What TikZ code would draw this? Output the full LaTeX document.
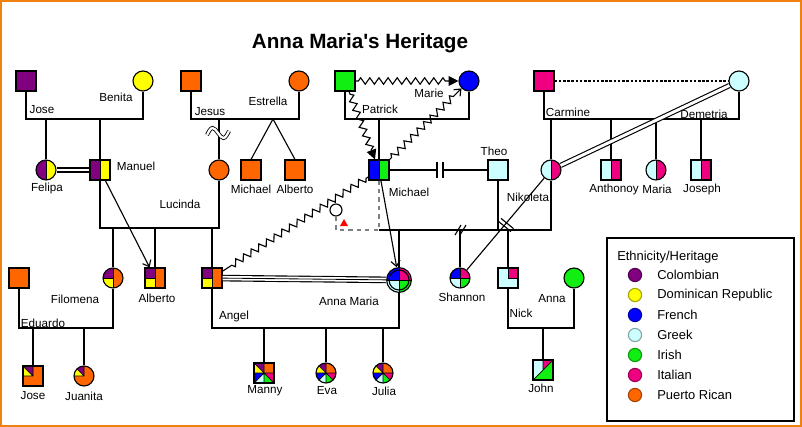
\documentclass[tikz,border=0pt]{standalone}
\usepackage{fontspec}
\setmainfont{Liberation Sans}
\usetikzlibrary{arrows.meta,decorations.pathmorphing}

\definecolor{colombian}{HTML}{800080}
\definecolor{dominican}{HTML}{FFFF00}
\definecolor{french}{HTML}{0000FF}
\definecolor{greek}{HTML}{CCFFFF}
\definecolor{irish}{HTML}{11EE11}
\definecolor{italian}{HTML}{EE0080}
\definecolor{puertorican}{HTML}{FF6600}
\definecolor{frameorange}{HTML}{F08010}

\newcommand\pp{path picture bounding box}

\begin{document}
\begin{tikzpicture}[x=0.025cm,y=-0.025cm,line width=0.8pt,font=\fontsize{8.3}{10}\selectfont,
    male/.style={draw,rectangle,minimum size=0.5cm,inner sep=0pt,fill=#1},
    male/.default=white,
    female/.style={draw,circle,minimum size=0.5cm,inner sep=0pt,fill=#1},
    female/.default=white,
    half/.style 2 args={path picture={
      \fill[#1] (\pp.south west) rectangle (\pp.north);
      \fill[#2] (\pp.south) rectangle (\pp.north east);
      \draw[line width=0.5pt] (\pp.north) -- (\pp.south);}},
    quad/.style n args={4}{path picture={
      \fill[#1] (\pp.west) rectangle (\pp.north);
      \fill[#2] (\pp.center) rectangle (\pp.north east);
      \fill[#3] (\pp.south west) rectangle (\pp.center);
      \fill[#4] (\pp.south) rectangle (\pp.east);
      \draw[line width=0.5pt] (\pp.north) -- (\pp.south) (\pp.west) -- (\pp.east);}},
    threeway/.style={path picture={
      \fill[puertorican] (\pp.south) rectangle (\pp.north east);
      \fill[colombian] (\pp.west) rectangle (\pp.north);
      \fill[dominican] (\pp.south west) rectangle (\pp.center);
      \draw[line width=0.5pt] (\pp.north) -- (\pp.south) (\pp.west) -- (\pp.center);}},
    cornerpair/.style={fill=puertorican,path picture={
      \fill[colombian] (\pp.north west) -- (\pp.north) -- (\pp.center) -- cycle;
      \fill[dominican] (\pp.north west) -- (\pp.west) -- (\pp.center) -- cycle;
      \draw[line width=0.5pt] (\pp.north) -- (\pp.center) -- (\pp.west) (\pp.north west) -- (\pp.center);}},
    eightfold/.style={fill=puertorican,path picture={
      \fill[colombian] (\pp.north west) -- (\pp.north) -- (\pp.center) -- cycle;
      \fill[dominican] (\pp.north west) -- (\pp.west) -- (\pp.center) -- cycle;
      \fill[french] (\pp.west) -- (\pp.south west) -- (\pp.center) -- cycle;
      \fill[greek] (\pp.south west) -- (\pp.south) -- (\pp.center) -- cycle;
      \fill[irish] (\pp.south) -- (\pp.south east) -- (\pp.center) -- cycle;
      \fill[italian] (\pp.south east) -- (\pp.east) -- (\pp.center) -- cycle;
      \draw[line width=0.5pt] (\pp.north) -- (\pp.south) (\pp.west) -- (\pp.east)
        (\pp.north west) -- (\pp.center) (\pp.south west) -- (\pp.center) -- (\pp.south east);}},
    nickfill/.style={fill=greek,path picture={
      \fill[italian] (\pp.center) rectangle (\pp.north east);
      \draw[line width=0.5pt] (\pp.north) -- (\pp.center) -- (\pp.east);}},
    johnfill/.style={fill=greek,path picture={
      \fill[italian] (\pp.north) -- (\pp.north east) -- (\pp.center) -- cycle;
      \fill[irish] (\pp.south west) -- (\pp.north east) -- (\pp.south east) -- cycle;
      \draw[line width=0.5pt] (\pp.south west) -- (\pp.north east) (\pp.north) -- (\pp.center);}},
    lbl/.style={inner sep=1pt},
    close/.style={double,double distance=2.1pt},
    abuse/.style={decorate,decoration={zigzag,segment length=6.5pt,amplitude=2.3pt,pre length=2pt,post length=7pt}},
    hit/.style={-{Triangle[length=7pt,width=7pt]}},
    barb/.style={-{Straight Barb[length=4pt,width=6.5pt]}}]
  \useasboundingbox (0,0) rectangle (802,427);
  \draw[frameorange,line width=1.5pt] (1,1) rectangle (801,426);
  \node[font=\fontsize{14.7}{17}\selectfont\bfseries] (title) at (360,43) {Anna Maria\textquotesingle s Heritage};

  % grandparents
  \node[male=colombian] (jose1) at (26,81) {};
  \node[female=dominican] (benita) at (143,81) {};
  \node[male=puertorican] (jesus) at (191,81) {};
  \node[female=puertorican] (estrella) at (299,81) {};
  \node[male=irish] (patrick) at (345,81) {};
  \node[female=french] (marie) at (469,81) {};
  \node[male=italian] (carmine) at (544,81) {};
  \node[female=greek] (demetria) at (739,81) {};

  % second row
  \node[female,half={colombian}{dominican}] (felipa) at (46,170) {};
  \node[male,half={colombian}{dominican}] (manuel) at (100,170) {};
  \node[female=puertorican] (lucinda) at (219,170) {};
  \node[male=puertorican] (michaeltw) at (251,170) {};
  \node[male=puertorican] (albertotw) at (295,170) {};
  \node[male,half={french}{irish}] (michael) at (379,170) {};
  \node[male=greek] (theo) at (498,170) {};
  \node[female,half={greek}{italian}] (nikoleta) at (551,170) {};
  \node[male,half={greek}{italian}] (anthonoy) at (611,170) {};
  \node[female,half={greek}{italian}] (maria) at (656,170) {};
  \node[male,half={greek}{italian}] (joseph) at (701,170) {};
  \node[female,minimum size=0.3cm] (loss) at (336,210) {};
  \fill[red] (340,226) -- (348,226) -- (344,219) -- cycle;

  % third row
  \node[male=puertorican] (eduardo) at (19,278) {};
  \node[female,threeway] (filomena) at (113,278) {};
  \node[male,threeway] (alberto) at (155,278) {};
  \node[male,threeway] (angel) at (212,278) {};
  \node[female,minimum size=0.62cm,quad={french}{italian}{greek}{irish}] (annamaria) at (399,280) {};
  \draw (annamaria) circle (0.25cm);
  \node[female,quad={french}{italian}{greek}{irish}] (shannon) at (460,278) {};
  \node[male,nickfill] (nick) at (508,278) {};
  \node[female=irish] (anna) at (574,278) {};

  % fourth row
  \node[male,cornerpair] (jose2) at (33,376) {};
  \node[female,cornerpair] (juanita) at (84,376) {};
  \node[male,eightfold] (manny) at (264,373) {};
  \node[female,eightfold] (eva) at (326,373) {};
  \node[female,eightfold] (julia) at (383,373) {};
  \node[male,johnfill] (john) at (543,370) {};

  % names
  \node[lbl] (l-jose1) at (42,110) {Jose};
  \node[lbl] (l-benita) at (116,97) {Benita};
  \node[lbl] (l-jesus) at (210,112) {Jesus};
  \node[lbl] (l-estrella) at (268,101) {Estrella};
  \node[lbl] (l-patrick) at (380,109) {Patrick};
  \node[lbl] (l-marie) at (429,93) {Marie};
  \node[lbl] (l-carmine) at (568,112) {Carmine};
  \node[lbl] (l-demetria) at (704,114) {Demetria};
  \node[lbl] (l-felipa) at (47,188) {Felipa};
  \node[lbl] (l-manuel) at (136,166) {Manuel};
  \node[lbl] (l-lucinda) at (180,204) {Lucinda};
  \node[lbl] (l-michaeltw) at (251,189) {Michael};
  \node[lbl] (l-albertotw) at (295,189) {Alberto};
  \node[lbl] (l-michael) at (409,192) {Michael};
  \node[lbl] (l-theo) at (494,151) {Theo};
  \node[lbl] (l-nikoleta) at (528,197) {Nikoleta};
  \node[lbl] (l-anthonoy) at (614,189) {Anthonoy};
  \node[lbl] (l-maria) at (657,189) {Maria};
  \node[lbl] (l-joseph) at (702,189) {Joseph};
  \node[lbl] (l-filomena) at (75,299) {Filomena};
  \node[lbl] (l-alberto) at (157,298) {Alberto};
  \node[lbl] (l-angel) at (234,316) {Angel};
  \node[lbl] (l-eduardo) at (43,323) {Eduardo};
  \node[lbl] (l-annamaria) at (349,301) {Anna Maria};
  \node[lbl] (l-shannon) at (462,297) {Shannon};
  \node[lbl] (l-nick) at (521,313) {Nick};
  \node[lbl] (l-anna) at (552,299) {Anna};
  \node[lbl] (l-jose2) at (33,396) {Jose};
  \node[lbl] (l-juanita) at (84,396) {Juanita};
  \node[lbl] (l-manny) at (265,391) {Manny};
  \node[lbl] (l-eva) at (327,391) {Eva};
  \node[lbl] (l-julia) at (384,391) {Julia};
  \node[lbl] (l-john) at (541,388) {John};

  % couple lines
  \coordinate (jb) at (84,119);
  \coordinate (je) at (245,119);
  \coordinate (twins) at (273,119);
  \coordinate (pm) at (407,119);
  \coordinate (cd) at (641,119);
  \coordinate (ml) at (160,228);
  \coordinate (mn) at (379,230);
  \coordinate (ef) at (66,328);
  \coordinate (aa) at (305,328);
  \coordinate (na) at (541,328);
  \draw (jose1) -- (jose1 |- jb) -| (benita);
  \draw (jesus) -- (jesus |- je) -| (estrella);
  \draw (patrick) -- (patrick |- pm) -| (marie);
  \draw (carmine) -- (carmine |- cd) -| (demetria);
  \draw (manuel) -- (manuel |- ml) -| (lucinda);
  \draw (eduardo) -- (eduardo |- ef) -| (filomena);
  \draw (angel) -- (angel |- aa) -| (annamaria);
  \draw (nick) -- (nick |- na) -| (anna);
  \draw (mn) -| (nikoleta);
  \draw[gray,dashed] (michael) -- (mn) -| (loss);

  % children
  \foreach \kid/\sib in {felipa/jb,manuel/jb,lucinda/je,michael/pm,nikoleta/cd,anthonoy/cd,maria/cd,joseph/cd,
      filomena/ml,alberto/ml,angel/ml,annamaria/mn,shannon/mn,nick/mn,theo/mn,jose2/ef,juanita/ef,
      manny/aa,eva/aa,julia/aa,john/na}
    \draw (\kid) -- (\kid |- \sib);
  \draw (michaeltw.north) -- (twins) -- (albertotw.north);
  \draw[double=white,double distance=1.6pt,line width=0.6pt] (207,135) sin (212.5,128) cos (218,133) sin (223.5,138) cos (229,131);

  % relationships
  \draw[close] (felipa) -- (manuel);
  \draw[close] (nikoleta) -- (demetria);
  \draw[double,double distance=3.1pt] (angel) -- (annamaria);
  \draw[line width=0.6pt] (angel) -- (annamaria);
  \draw[dash pattern=on 1.8pt off 1.2pt] (carmine) -- (demetria);
  \coordinate (cut1) at (437,170);
  \coordinate (cut2) at (443,170);
  \draw (michael) -- (cut1) +(0,-8) -- +(0,8);
  \draw (theo) -- (cut2) +(0,-8) -- +(0,8);
  \draw (455,235) -- (461,225) (460,235) -- (466,225);
  \draw (shannon) -- (nikoleta);
  \draw (501,218.4) -- (513.5,228.6) (498.5,221.4) -- (510.9,231.6);
  \draw[barb] (manuel) -- (alberto);
  \draw[barb] (michael) -- (annamaria);
  \draw[abuse,hit] (patrick) -- (marie);
  \draw[abuse,hit] (patrick) -- (michael);
  \draw[abuse,barb] (michael) -- (marie);
  \draw[abuse] (michael) -- (angel);

  % key
  \node[draw,line width=1pt,minimum width=4.675cm,minimum height=4.575cm,inner sep=0pt] (key) at (700.5,329.5) {};
  \node[anchor=west,font=\fontsize{9.2}{11}\selectfont] (keytitle) at (612,257) {Ethnicity/Heritage};
  \foreach \col/\txt [count=\i] in {colombian/Colombian,dominican/Dominican Republic,french/French,greek/Greek,irish/Irish,italian/Italian,puertorican/Puerto Rican} {
    \node[circle,draw=\col!65!black,fill=\col,minimum size=0.33cm,inner sep=0pt] (key\i) at (635,255+20*\i) {};
    \node[anchor=west,font=\fontsize{9.2}{11}\selectfont] (keytxt\i) at (652,255+20*\i) {\txt};
  }
\end{tikzpicture}
\end{document}
